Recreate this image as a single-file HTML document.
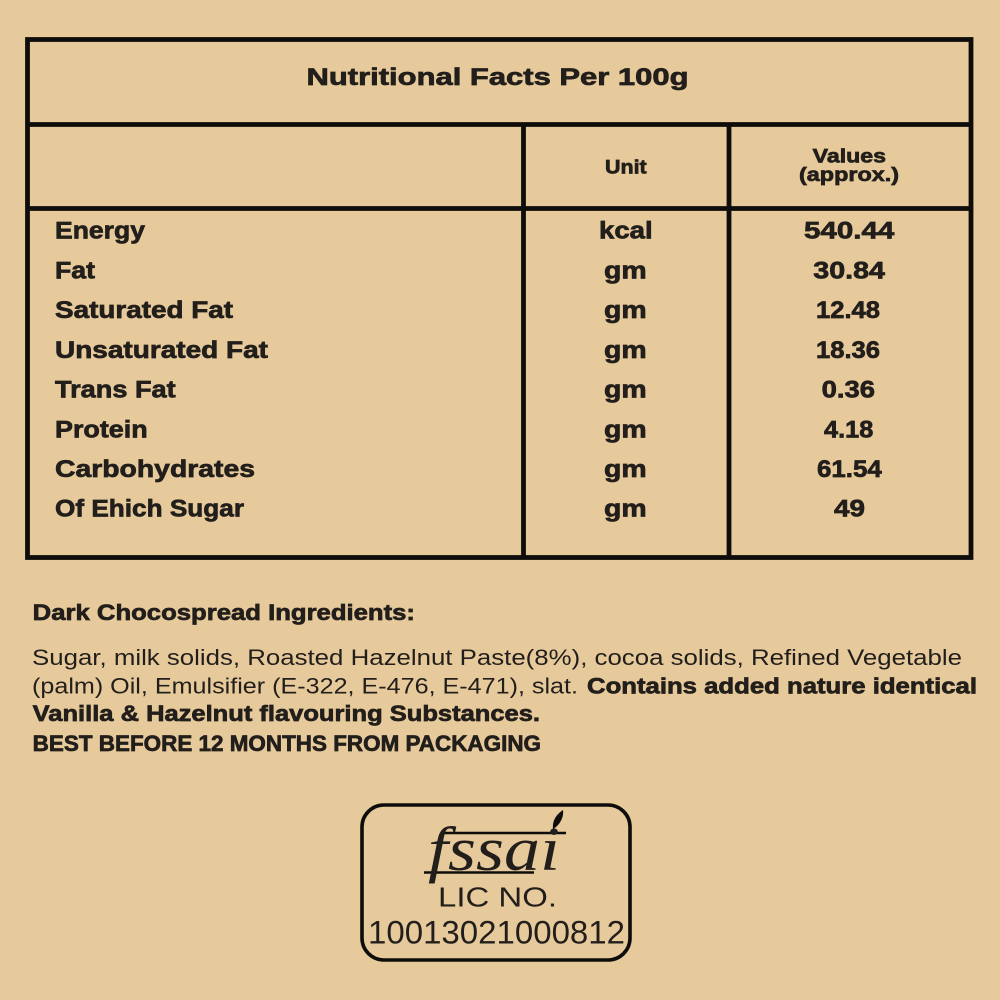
<!DOCTYPE html>
<html>
<head>
<meta charset="utf-8">
<style>
html,body{margin:0;padding:0;background:#e7ca9b;}
svg{display:block;}
text{font-family:"Liberation Sans",sans-serif;fill:#221e1b;}
.b{font-weight:bold;stroke:#221e1b;stroke-width:0.7px;}
</style>
</head>
<body>
<svg width="1000" height="1000" viewBox="0 0 1000 1000" xmlns="http://www.w3.org/2000/svg">
<rect x="0" y="0" width="1000" height="1000" fill="#e7ca9b"/>
<!-- table -->
<g stroke="#0e0d0b" stroke-width="4.8" fill="none">
<rect x="27.5" y="39.5" width="943.5" height="518"/>
<line x1="27.5" y1="124.5" x2="971" y2="124.5"/>
<line x1="27.5" y1="208.5" x2="971" y2="208.5"/>
<line x1="523.5" y1="124.5" x2="523.5" y2="557.5"/>
<line x1="729" y1="124.5" x2="729" y2="557.5"/>
</g>
<text class="b" x="306.5" y="85" font-size="24" textLength="382" lengthAdjust="spacingAndGlyphs">Nutritional Facts Per 100g</text>
<text class="b" x="605" y="173.3" font-size="19.5" textLength="41.7" lengthAdjust="spacingAndGlyphs">Unit</text>
<text class="b" x="812.7" y="162.7" font-size="19.5" textLength="73.3" lengthAdjust="spacingAndGlyphs">Values</text>
<text class="b" x="799" y="181" font-size="19.5" textLength="100" lengthAdjust="spacingAndGlyphs">(approx.)</text>

<g font-size="24">
<text class="b" x="55" y="238.5" textLength="90" lengthAdjust="spacingAndGlyphs">Energy</text>
<text class="b" x="55" y="278.3" textLength="40" lengthAdjust="spacingAndGlyphs">Fat</text>
<text class="b" x="55" y="318.1" textLength="178" lengthAdjust="spacingAndGlyphs">Saturated Fat</text>
<text class="b" x="55" y="357.9" textLength="213" lengthAdjust="spacingAndGlyphs">Unsaturated Fat</text>
<text class="b" x="55" y="397.7" textLength="120.7" lengthAdjust="spacingAndGlyphs">Trans Fat</text>
<text class="b" x="55" y="437.4" textLength="92.7" lengthAdjust="spacingAndGlyphs">Protein</text>
<text class="b" x="55" y="477" textLength="200" lengthAdjust="spacingAndGlyphs">Carbohydrates</text>
<text class="b" x="55" y="516.5" textLength="189" lengthAdjust="spacingAndGlyphs">Of Ehich Sugar</text>

<text class="b" x="599" y="238.5" textLength="53.7" lengthAdjust="spacingAndGlyphs">kcal</text>
<text class="b" x="604" y="278.3" textLength="42.7" lengthAdjust="spacingAndGlyphs">gm</text>
<text class="b" x="604" y="318.1" textLength="42.7" lengthAdjust="spacingAndGlyphs">gm</text>
<text class="b" x="604" y="357.9" textLength="42.7" lengthAdjust="spacingAndGlyphs">gm</text>
<text class="b" x="604" y="397.7" textLength="42.7" lengthAdjust="spacingAndGlyphs">gm</text>
<text class="b" x="604" y="437.4" textLength="42.7" lengthAdjust="spacingAndGlyphs">gm</text>
<text class="b" x="604" y="477" textLength="42.7" lengthAdjust="spacingAndGlyphs">gm</text>
<text class="b" x="604" y="516.5" textLength="42.7" lengthAdjust="spacingAndGlyphs">gm</text>

<text class="b" x="804" y="238.5" textLength="90.3" lengthAdjust="spacingAndGlyphs">540.44</text>
<text class="b" x="813.3" y="278.3" textLength="71.7" lengthAdjust="spacingAndGlyphs">30.84</text>
<text class="b" x="816" y="318.1" textLength="64" lengthAdjust="spacingAndGlyphs">12.48</text>
<text class="b" x="816" y="357.9" textLength="64" lengthAdjust="spacingAndGlyphs">18.36</text>
<text class="b" x="821.7" y="397.7" textLength="53.3" lengthAdjust="spacingAndGlyphs">0.36</text>
<text class="b" x="824" y="437.4" textLength="49.3" lengthAdjust="spacingAndGlyphs">4.18</text>
<text class="b" x="817" y="477" textLength="64.7" lengthAdjust="spacingAndGlyphs">61.54</text>
<text class="b" x="834" y="516.5" textLength="31" lengthAdjust="spacingAndGlyphs">49</text>
</g>

<!-- ingredients -->
<text class="b" x="32.7" y="620" font-size="22.5" textLength="382.3" lengthAdjust="spacingAndGlyphs">Dark Chocospread Ingredients:</text>
<text x="32" y="665" font-size="22" textLength="930" lengthAdjust="spacingAndGlyphs">Sugar, milk solids, Roasted Hazelnut Paste(8%), cocoa solids, Refined Vegetable</text>
<text x="32" y="693.5" font-size="22" textLength="546" lengthAdjust="spacingAndGlyphs">(palm) Oil, Emulsifier (E-322, E-476, E-471), slat.</text>
<text class="b" x="587" y="693.5" font-size="22" textLength="390" lengthAdjust="spacingAndGlyphs">Contains added nature identical</text>
<text class="b" x="32.7" y="721" font-size="22" textLength="507.3" lengthAdjust="spacingAndGlyphs">Vanilla &amp; Hazelnut flavouring Substances.</text>
<text class="b" x="32.7" y="751" font-size="22" textLength="508.3" lengthAdjust="spacingAndGlyphs">BEST BEFORE 12 MONTHS FROM PACKAGING</text>

<!-- fssai -->
<rect x="362" y="805" width="268" height="155" rx="22" ry="22" fill="none" stroke="#0e0d0b" stroke-width="3.6"/>
<line x1="441" y1="833" x2="566" y2="833" stroke="#0e0d0b" stroke-width="2.4"/>
<line x1="424" y1="872.5" x2="534" y2="872.5" stroke="#0e0d0b" stroke-width="2.4"/>
<text x="428" y="870" font-style="italic" font-size="62" textLength="132" lengthAdjust="spacingAndGlyphs" style="font-family:'Liberation Serif',serif;">fssai</text>
<path d="M553 829 C552 820 557 814 563 810 C564 817 560 825 553 829 Z" fill="#0e0d0b"/>
<text x="438" y="906.7" font-size="28" textLength="119" lengthAdjust="spacingAndGlyphs">LIC NO.</text>
<text x="368" y="943.3" font-size="32" textLength="257" lengthAdjust="spacingAndGlyphs">10013021000812</text>
</svg>
</body>
</html>
